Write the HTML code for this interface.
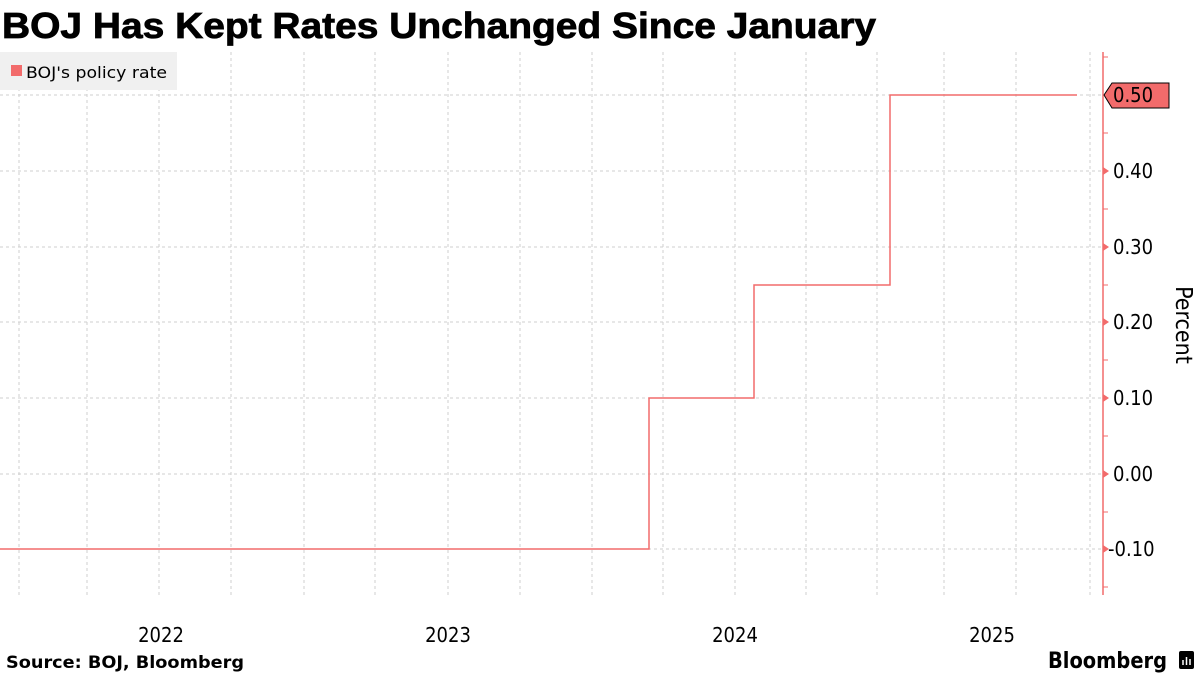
<!DOCTYPE html>
<html><head><style>
body{margin:0;width:1200px;height:675px;background:#fff;overflow:hidden;font-family:"DejaVu Sans Condensed","Liberation Sans",sans-serif}
</style></head><body>
<svg width="1200" height="675" xmlns="http://www.w3.org/2000/svg">
<text x="2" y="38" font-family="Liberation Sans,sans-serif" font-weight="bold" font-size="36" fill="#000" stroke="#000" stroke-width="0.8" textLength="874" lengthAdjust="spacingAndGlyphs">BOJ Has Kept Rates Unchanged Since January</text>
<g stroke="#cfcfcf" stroke-width="1" stroke-dasharray="3,3">
<line x1="19" y1="52" x2="19" y2="595"/><line x1="87" y1="52" x2="87" y2="595"/><line x1="159" y1="52" x2="159" y2="595"/><line x1="231" y1="52" x2="231" y2="595"/><line x1="304" y1="52" x2="304" y2="595"/><line x1="375" y1="52" x2="375" y2="595"/><line x1="448" y1="52" x2="448" y2="595"/><line x1="520" y1="52" x2="520" y2="595"/><line x1="592" y1="52" x2="592" y2="595"/><line x1="663" y1="52" x2="663" y2="595"/><line x1="735" y1="52" x2="735" y2="595"/><line x1="806" y1="52" x2="806" y2="595"/><line x1="877" y1="52" x2="877" y2="595"/><line x1="944" y1="52" x2="944" y2="595"/><line x1="1016" y1="52" x2="1016" y2="595"/><line x1="1090" y1="52" x2="1090" y2="595"/>
<line x1="0" y1="95" x2="1103" y2="95"/><line x1="0" y1="171" x2="1103" y2="171"/><line x1="0" y1="247" x2="1103" y2="247"/><line x1="0" y1="322" x2="1103" y2="322"/><line x1="0" y1="398" x2="1103" y2="398"/><line x1="0" y1="474" x2="1103" y2="474"/><line x1="0" y1="549" x2="1103" y2="549"/>
</g>
<rect x="0" y="52" width="177" height="38" fill="#f0f0f0"/>
<rect x="11" y="65" width="11" height="11" fill="#f26b6b"/>
<text x="26" y="78" font-size="16" fill="#000" textLength="141" lengthAdjust="spacingAndGlyphs">BOJ's policy rate</text>
<polyline fill="none" stroke="#f26b6b" stroke-width="1.5" points="0,549 649,549 649,398 754,398 754,285 890,285 890,95 1077,95"/>
<line x1="1103" y1="52" x2="1103" y2="595" stroke="#f26b6b" stroke-width="1.5"/>
<g stroke="#f26b6b" stroke-width="1"><line x1="1103" y1="57" x2="1108" y2="57"/><line x1="1103" y1="133" x2="1108" y2="133"/><line x1="1103" y1="209" x2="1108" y2="209"/><line x1="1103" y1="285" x2="1108" y2="285"/><line x1="1103" y1="360" x2="1108" y2="360"/><line x1="1103" y1="436" x2="1108" y2="436"/><line x1="1103" y1="512" x2="1108" y2="512"/><line x1="1103" y1="587" x2="1108" y2="587"/></g>
<g fill="#f26b6b"><path d="M1103,167 L1109,171 L1103,175Z"/><path d="M1103,243 L1109,247 L1103,251Z"/><path d="M1103,318 L1109,322 L1103,326Z"/><path d="M1103,394 L1109,398 L1103,402Z"/><path d="M1103,470 L1109,474 L1103,478Z"/><path d="M1103,545 L1109,549 L1103,553Z"/></g>
<path d="M1104,95 L1112,83 L1169,83 L1169,108 L1112,108Z" fill="#f26b6b" stroke="#000" stroke-width="1"/>
<g font-size="20" fill="#000">
<text x="1113" y="102">0.50</text><text x="1113" y="178">0.40</text><text x="1113" y="254">0.30</text><text x="1113" y="329">0.20</text><text x="1113" y="405">0.10</text><text x="1113" y="481">0.00</text><text x="1108" y="556">-0.10</text>
<text x="161" y="642" text-anchor="middle">2022</text><text x="448" y="642" text-anchor="middle">2023</text><text x="735" y="642" text-anchor="middle">2024</text><text x="992" y="642" text-anchor="middle">2025</text>
</g>
<text x="1176" y="325" font-size="23" fill="#000" text-anchor="middle" transform="rotate(90 1176 325)">Percent</text>
<text x="6" y="668" font-size="17" font-weight="bold" fill="#000" textLength="238" lengthAdjust="spacingAndGlyphs">Source: BOJ, Bloomberg</text>
<text x="1048" y="668" font-size="22" font-weight="bold" fill="#000" textLength="119" lengthAdjust="spacingAndGlyphs">Bloomberg</text>
<rect x="1179" y="651" width="15" height="18" rx="2" fill="#000"/>
<g stroke="#fff" stroke-width="1.5"><line x1="1183" y1="665" x2="1183" y2="660"/><line x1="1186.5" y1="665" x2="1186.5" y2="657"/><line x1="1190" y1="665" x2="1190" y2="659"/></g>
</svg>
</body></html>
